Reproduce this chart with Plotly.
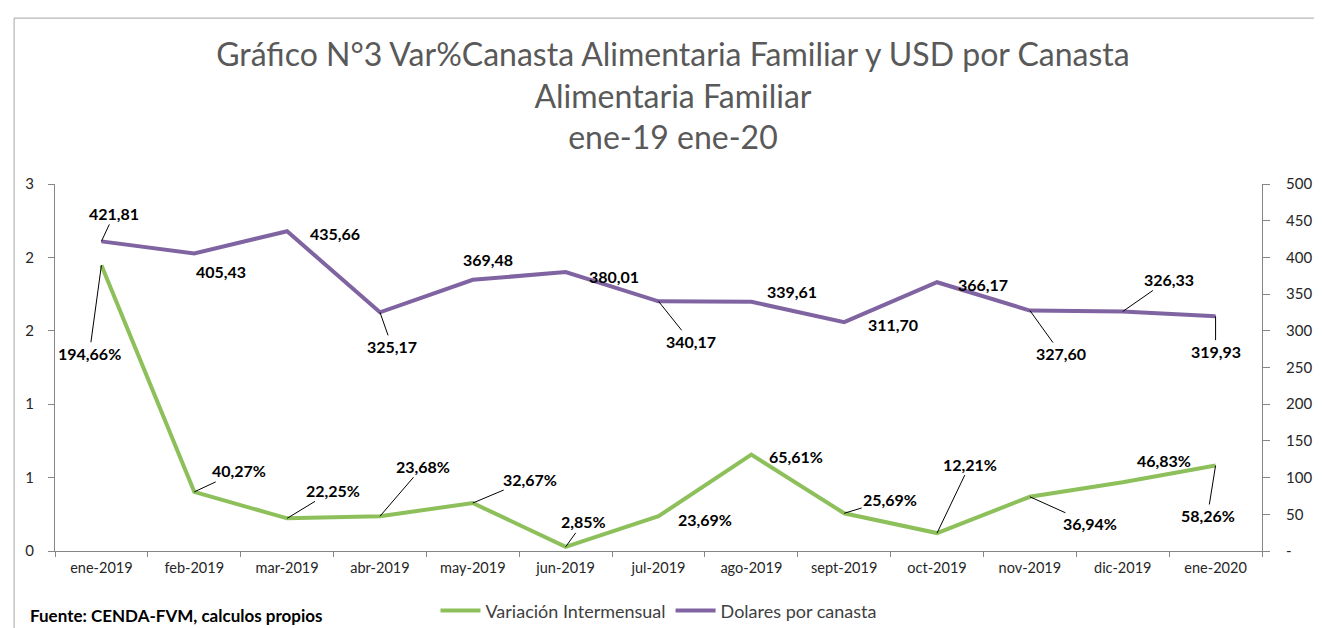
import plotly.graph_objects as go

categories = ["ene-2019", "feb-2019", "mar-2019", "abr-2019", "may-2019", "jun-2019",
              "jul-2019", "ago-2019", "sept-2019", "oct-2019", "nov-2019", "dic-2019", "ene-2020"]
var_pct = [194.66, 40.27, 22.25, 23.68, 32.67, 2.85, 23.69, 65.61, 25.69, 12.21, 36.94, 46.83, 58.26]
usd_canasta = [421.81, 405.43, 435.66, 325.17, 369.48, 380.01, 340.17, 339.61, 311.70, 366.17, 327.60, 326.33, 319.93]

left_tickvals = [0, 0.5, 1, 1.5, 2, 2.5]
left_ticktext = ["0", "1", "1", "2", "2", "3"]
right_tickvals = [0, 50, 100, 150, 200, 250, 300, 350, 400, 450, 500]
right_ticktext = ["-", "50", "100", "150", "200", "250", "300", "350", "400", "450", "500"]

GREEN = "#8DC05A"
PURPLE = "#8064A2"
FONT = "Lato"

var_frac = [v / 100 for v in var_pct]

fig = go.Figure()
fig.add_trace(go.Scatter(x=categories, y=var_frac, mode="lines", name="Variación Intermensual",
                         line=dict(color=GREEN, width=4), yaxis="y"))
fig.add_trace(go.Scatter(x=categories, y=usd_canasta, mode="lines", name="Dolares por canasta",
                         line=dict(color=PURPLE, width=4), yaxis="y2"))

def fmt(v, pct=False):
    s = f"{v:.2f}".replace(".", ",")
    return s + "%" if pct else s

# label offsets in pixels (ax, ay, leader line shown)
usd_off = [(13, -28, True), (27, 18, False), (48, 2, False), (12, 34, True), (15, -20, False),
           (48, 4, False), (32, 40, True), (41, -10, False), (49, 2, False), (46, 2, False),
           (31, 43, True), (46, -32, True), (0, 35, True)]
var_off = [(-12, 88, True), (45, -21, True), (46, -28, True), (43, -50, True), (57, -24, True),
           (18, -25, True), (46, 3, False), (45, 2, False), (46, -14, True), (33, -69, True),
           (60, 27, True), (41, -22, False), (-8, 50, True)]

annotations = []
for c, v, (ax, ay, lead) in zip(categories, usd_canasta, usd_off):
    annotations.append(dict(x=c, y=v, xref="x", yref="y2", text=f"<b>{fmt(v)}</b>",
                            showarrow=True, ax=ax, ay=ay, arrowhead=0, arrowwidth=1, standoff=0,
                            arrowcolor="black" if lead else "rgba(0,0,0,0)",
                            font=dict(family=FONT, size=16, color="black")))
for c, v, f, (ax, ay, lead) in zip(categories, var_pct, var_frac, var_off):
    annotations.append(dict(x=c, y=f, xref="x", yref="y", text=f"<b>{fmt(v, True)}</b>",
                            showarrow=True, ax=ax, ay=ay, arrowhead=0, arrowwidth=1, standoff=0,
                            arrowcolor="black" if lead else "rgba(0,0,0,0)",
                            font=dict(family=FONT, size=16, color="black")))

annotations.append(dict(x=-0.0223, y=-0.177, xref="paper", yref="paper", xanchor="left", yanchor="middle",
                        text="<b>Fuente: CENDA-FVM, calculos propios</b>", showarrow=False,
                        font=dict(family=FONT, size=17, color="black")))

fig.update_layout(
    width=1322, height=628,
    margin=dict(l=47, r=68, t=176, b=85, autoexpand=False),
    paper_bgcolor="white", plot_bgcolor="white",
    title=dict(text="Gráfico N°3 Var%Canasta Alimentaria Familiar y USD por Canasta<br>Alimentaria Familiar<br>ene-19 ene-20",
               x=0.503, xanchor="center", y=1 - 58 / 628, yanchor="top", yref="container",
               font=dict(family=FONT, size=32, color="#595959")),
    xaxis=dict(type="category", range=[-0.5, 12.5], showline=True, linecolor="#868686", ticks="outside",
               tickson="boundaries", ticklen=5, tickcolor="#868686", showgrid=False, automargin=False,
               ticklabelstandoff=4, tickfont=dict(family=FONT, size=14.5, color="#262626")),
    yaxis=dict(range=[0, 2.5], tickvals=left_tickvals, ticktext=left_ticktext, showline=True,
               linecolor="#868686", ticks="outside", ticklen=6, tickcolor="#868686", showgrid=False,
               zeroline=False, automargin=False, ticklabelstandoff=11,
               tickfont=dict(family=FONT, size=15, color="#262626")),
    yaxis2=dict(range=[0, 500], tickvals=right_tickvals, ticktext=right_ticktext, overlaying="y",
                side="right", showline=True, linecolor="#868686", ticks="outside", ticklen=7,
                tickcolor="#868686", showgrid=False, zeroline=False, automargin=False,
                ticklabelstandoff=13, tickfont=dict(family=FONT, size=15, color="#262626")),
    legend=dict(orientation="h", x=0.5, xanchor="center", y=-0.163, yanchor="middle",
                font=dict(family=FONT, size=18, color="#404040"), itemwidth=40),
    showlegend=True,
    annotations=annotations,
    shapes=[dict(type="rect", xref="paper", yref="paper", x0=-0.0339, x1=1.0513, y0=-0.229, y1=1.452,
                 line=dict(color="#A6A6A6", width=1), fillcolor="rgba(0,0,0,0)", layer="below")],
)

fig.write_html("out.html")
